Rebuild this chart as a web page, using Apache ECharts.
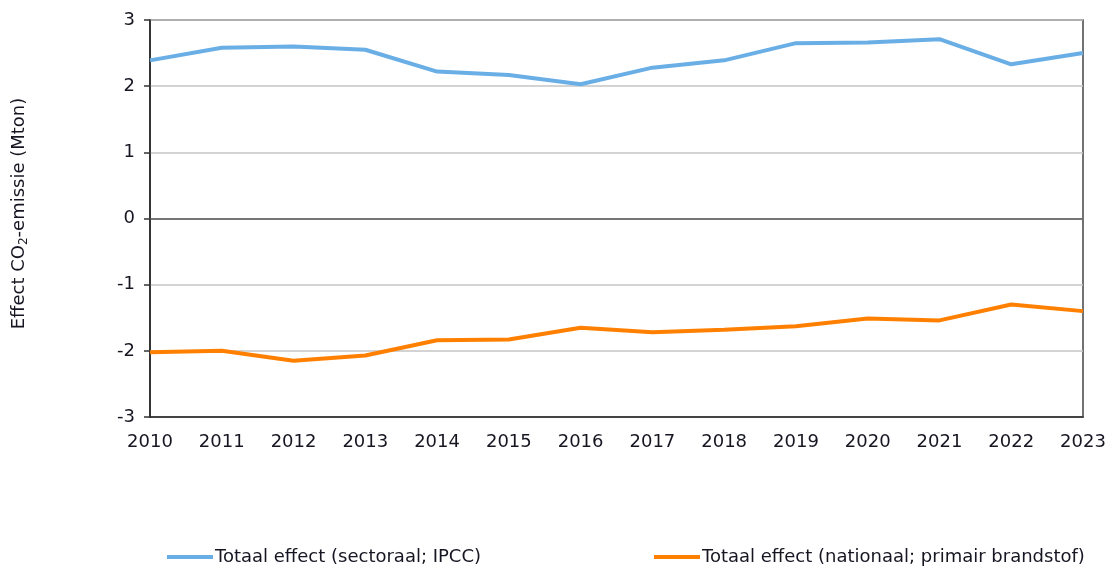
<!DOCTYPE html>
<html>
<head>
<meta charset="utf-8">
<style>
  html, body { margin: 0; padding: 0; background: #fff; }
  #chart { width: 1109px; height: 566px; }
</style>
<script src="https://cdn.jsdelivr.net/npm/echarts@6/dist/echarts.min.js"></script>
</head>
<body>
<div id="chart"></div>
<script>
// Years on the horizontal axis
const years = ['2010','2011','2012','2013','2014','2015','2016','2017','2018','2019','2020','2021','2022','2023'];

// Total effect on CO2 emissions (Mton)
const sectoraalIPCC = [2.39, 2.58, 2.60, 2.55, 2.22, 2.17, 2.03, 2.28, 2.39, 2.65, 2.66, 2.71, 2.33, 2.50];
const nationaalPrimair = [-2.02, -2.00, -2.15, -2.07, -1.84, -1.83, -1.65, -1.72, -1.68, -1.63, -1.51, -1.54, -1.30, -1.40];

const seriesNames = ['Totaal effect (sectoraal; IPCC)', 'Totaal effect (nationaal; primair brandstof)'];

const textColor = '#161622';
const fontFamily = 'DejaVu Sans, Verdana, sans-serif';

const chart = echarts.init(document.getElementById('chart'), null, { renderer: 'canvas' });

const legendBase = {
  top: 548, padding: 0,
  itemWidth: 46, itemHeight: 4, itemGap: 4,
  icon: 'rect',
  textStyle: { color: textColor, fontFamily, fontSize: 18, padding: [0, 0, 0, -3] }
};

chart.setOption({
  animation: false,
  backgroundColor: '#ffffff',
  grid: {
    left: 150, right: 26, top: 20, bottom: 149,
    show: true, borderColor: '#444', borderWidth: 1.5, backgroundColor: 'transparent'
  },
  legend: [
    Object.assign({}, legendBase, { data: [seriesNames[0]], left: 167 }),
    Object.assign({}, legendBase, { data: [seriesNames[1]], left: 654 })
  ],
  xAxis: {
    type: 'category',
    data: years,
    boundaryGap: false,
    axisLine: { onZero: false, lineStyle: { color: '#222', width: 1.5 } },
    axisTick: { show: false },
    axisLabel: { color: textColor, fontFamily, fontSize: 18, margin: 16 },
    splitLine: { show: false }
  },
  yAxis: {
    type: 'value',
    min: -3, max: 3, interval: 1,
    name: 'Effect CO{sub|2}-emissie (Mton)',
    nameLocation: 'middle',
    nameRotate: 90,
    nameGap: 120,
    nameTextStyle: {
      color: textColor, fontFamily, fontSize: 18,
      padding: [0, 0, 0, 10],
      rich: {
        sub: { fontSize: 12, fontFamily, color: textColor, verticalAlign: 'bottom', padding: [9, 0, 0, 0] }
      }
    },
    axisLine: { show: true, lineStyle: { color: '#222', width: 1.5 } },
    axisTick: { show: true, length: 6, lineStyle: { color: '#333', width: 1.5 } },
    axisLabel: { color: textColor, fontFamily, fontSize: 18, margin: 15 },
    splitLine: { show: true, lineStyle: { color: '#c4c4c4', width: 1.5 } }
  },
  series: [
    {
      name: seriesNames[0],
      type: 'line',
      data: sectoraalIPCC,
      symbol: 'none',
      color: '#6aaee6',
      lineStyle: { width: 4, color: '#6aaee6' },
      z: 3,
      markLine: {
        silent: true, symbol: 'none', label: { show: false },
        lineStyle: { color: '#555', width: 1.5, type: 'solid' },
        data: [{ yAxis: 0 }]
      }
    },
    {
      name: seriesNames[1],
      type: 'line',
      data: nationaalPrimair,
      symbol: 'none',
      color: '#ff8000',
      lineStyle: { width: 4, color: '#ff8000' },
      z: 3
    }
  ]
});
</script>
</body>
</html>
